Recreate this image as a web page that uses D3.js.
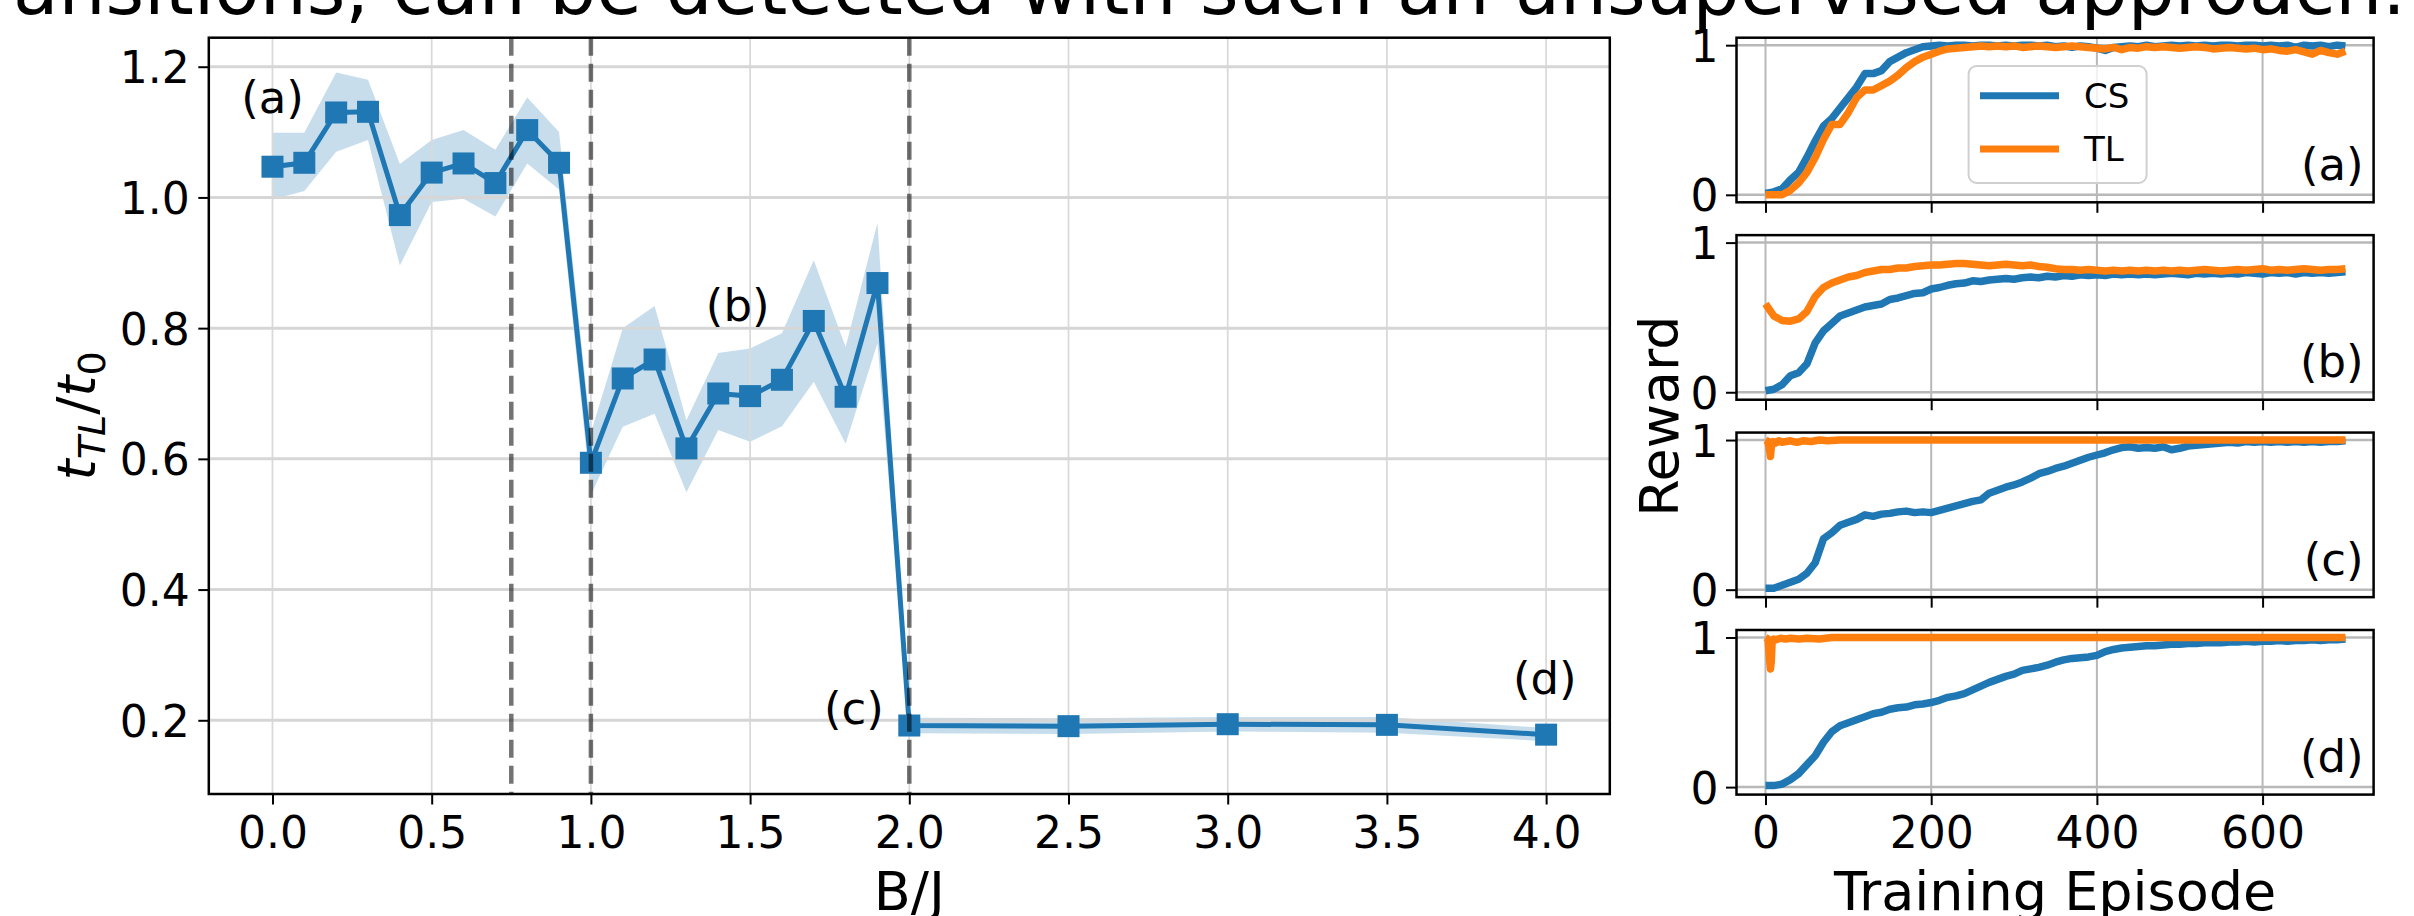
<!DOCTYPE html>
<html><head><meta charset="utf-8">
<script src="https://cdnjs.cloudflare.com/ajax/libs/d3/7.8.5/d3.min.js"></script>
<style>body{margin:0;background:#fff;} svg{display:block;font-family:"DejaVu Sans",sans-serif;}</style>
</head><body><svg id="c" width="2414" height="916"></svg>
<script>
// ---------------- data ----------------
const headerText = "ansitions, can be detected with such an unsupervised approach.";
const bj = [0.0,0.1,0.2,0.3,0.4,0.5,0.6,0.7,0.8,0.9,1.0,1.1,1.2,1.3,1.4,1.5,1.6,1.7,1.8,1.9,2.0,2.5,3.0,3.5,4.0];
const ratio = [1.047,1.053,1.130,1.131,0.973,1.038,1.052,1.022,1.103,1.053,0.594,0.723,0.752,0.616,0.700,0.696,0.721,0.811,0.695,0.869,0.192,0.191,0.194,0.193,0.178];
const ratioUpper = [1.099,1.099,1.191,1.180,1.051,1.088,1.103,1.073,1.153,1.100,0.640,0.800,0.834,0.659,0.762,0.769,0.792,0.904,0.771,0.961,0.204,0.203,0.205,0.205,0.188];
const ratioLower = [0.997,1.010,1.070,1.088,0.896,0.993,0.998,0.971,1.052,1.012,0.545,0.649,0.669,0.549,0.644,0.626,0.650,0.718,0.623,0.777,0.180,0.179,0.183,0.181,0.168];
const transitions = [0.75, 1.0, 2.0];
const bjTicks = [0.0,0.5,1.0,1.5,2.0,2.5,3.0,3.5,4.0];
const ratioTicks = [0.2,0.4,0.6,0.8,1.0,1.2];
const leftNotes = ["(a)","(b)","(c)","(d)"];

const episodes = d3.range(0, 701, 10);
const csA = [0.01,0.02,0.04,0.10,0.15,0.25,0.36,0.46,0.51,0.58,0.65,0.72,0.81,0.81,0.83,0.89,0.92,0.95,0.97,0.99,0.995,1.0,0.995,1.0,1.0,0.995,1.0,1.0,0.995,1.0,0.995,1.0,1.0,0.995,1.0,0.99,0.995,0.985,0.995,0.99,0.98,0.965,0.985,0.99,0.995,0.99,1.0,0.99,0.995,1.0,0.995,1.0,0.995,1.0,0.995,1.0,1.0,0.995,1.0,1.0,0.995,1.0,0.995,1.0,0.985,1.0,0.995,1.0,0.99,1.0,0.995];
const tlA = [0.0,0.0,0.0,0.03,0.08,0.15,0.25,0.37,0.47,0.47,0.55,0.65,0.70,0.70,0.73,0.76,0.80,0.85,0.89,0.92,0.94,0.96,0.975,0.98,0.985,0.99,0.995,0.99,0.995,0.99,0.995,0.985,0.99,0.995,0.99,0.985,0.99,0.995,0.99,0.985,0.98,0.975,0.985,0.97,0.985,0.98,0.99,0.985,0.99,0.985,0.98,0.985,0.99,0.985,0.975,0.98,0.985,0.98,0.975,0.98,0.97,0.975,0.965,0.96,0.97,0.955,0.94,0.965,0.95,0.94,0.96];
const csB = [0.01,0.02,0.05,0.11,0.13,0.19,0.33,0.41,0.46,0.51,0.53,0.55,0.57,0.58,0.59,0.62,0.63,0.645,0.66,0.665,0.69,0.70,0.715,0.725,0.73,0.745,0.74,0.75,0.755,0.76,0.755,0.765,0.77,0.765,0.775,0.77,0.78,0.775,0.785,0.78,0.785,0.78,0.79,0.785,0.79,0.785,0.79,0.785,0.79,0.795,0.79,0.785,0.795,0.79,0.795,0.79,0.795,0.79,0.8,0.795,0.79,0.8,0.795,0.8,0.79,0.8,0.795,0.8,0.795,0.8,0.805];
const tlB = [0.59,0.51,0.48,0.475,0.49,0.54,0.64,0.70,0.73,0.75,0.77,0.78,0.80,0.81,0.82,0.82,0.83,0.83,0.84,0.845,0.85,0.85,0.855,0.86,0.86,0.855,0.85,0.845,0.85,0.855,0.85,0.845,0.85,0.84,0.835,0.825,0.82,0.82,0.815,0.82,0.815,0.81,0.815,0.81,0.815,0.81,0.815,0.81,0.815,0.81,0.815,0.81,0.815,0.82,0.815,0.81,0.815,0.82,0.815,0.82,0.825,0.815,0.82,0.815,0.82,0.825,0.82,0.815,0.82,0.82,0.825];
const csC = [0.01,0.01,0.03,0.05,0.07,0.11,0.18,0.34,0.38,0.43,0.45,0.47,0.50,0.49,0.505,0.51,0.52,0.525,0.515,0.52,0.515,0.53,0.545,0.56,0.575,0.59,0.60,0.645,0.665,0.685,0.70,0.72,0.745,0.775,0.79,0.81,0.825,0.845,0.865,0.885,0.90,0.915,0.935,0.95,0.955,0.945,0.95,0.945,0.955,0.935,0.945,0.96,0.965,0.97,0.975,0.98,0.985,0.98,0.99,0.985,0.99,0.985,0.99,0.985,0.99,0.985,0.99,0.985,0.99,0.99,0.995];
const csD = [0.01,0.01,0.02,0.05,0.09,0.15,0.21,0.30,0.37,0.41,0.43,0.45,0.47,0.49,0.50,0.52,0.53,0.535,0.55,0.555,0.565,0.58,0.60,0.61,0.625,0.65,0.675,0.70,0.72,0.74,0.755,0.78,0.79,0.80,0.815,0.835,0.85,0.86,0.865,0.87,0.88,0.905,0.92,0.93,0.935,0.94,0.945,0.945,0.95,0.955,0.955,0.96,0.96,0.965,0.965,0.965,0.97,0.97,0.975,0.97,0.975,0.975,0.98,0.975,0.98,0.98,0.985,0.98,0.985,0.985,0.99];
const tlCEp = [0,3,5,6,7,9,12,16,20,25,30,38,45,55,65,75,90,110,150,200,260,320,400,480,560,640,700];
const tlCVal = [1.0,0.99,0.93,0.89,0.95,0.99,0.98,0.995,0.985,0.99,0.995,0.985,0.995,0.99,1.0,0.995,1.0,1.0,1.0,1.0,1.0,1.0,1.0,1.0,1.0,1.0,1.0];
const tlDEp = [0,3,5,6,7,8,10,13,18,24,30,40,50,65,80,100,150,200,300,400,500,600,700];
const tlDVal = [1.0,0.99,0.85,0.79,0.84,0.97,0.99,0.985,0.995,0.99,0.995,0.99,0.995,0.99,1.0,1.0,1.0,1.0,1.0,1.0,1.0,1.0,1.0];
const episodeTicks = [0,200,400,600];
const rewardTicks = [0,1];
const panelNames = ["(a)","(b)","(c)","(d)"];
const seriesNames = ["CS","TL"];
const colors = {CS:"#1f77b4", TL:"#ff7f0e"};

// -------------- drawing --------------
const svg = d3.select("#c");

// header (text of the page above the figure)
const hdr = svg.append("text").attr("x",13).attr("y",14).attr("fill","#000")
  .style("font-size","100px").text(headerText);
const hw = hdr.node().getComputedTextLength();
hdr.style("font-size", (100*2393/hw)+"px");

const TICK = 44;
function styleAxis(g){
  g.attr("font-family",null).attr("font-size",null);
  g.select(".domain").remove();
  g.selectAll(".tick line").attr("stroke","#000").attr("stroke-width",2);
  g.selectAll(".tick text").attr("fill","#000").style("font-size",TICK+"px");
}

// ===== left panel =====
const L = {x0:208.8, x1:1609.8, y0:37.7, y1:794};
const x = d3.scaleLinear().domain([-0.2,4.2]).range([L.x0,L.x1]);
const y = d3.scaleLinear().domain([0.0872,1.2444]).range([L.y1,L.y0]);
const pts = bj.map((b,i)=>({b, v:ratio[i], lo:ratioLower[i], hi:ratioUpper[i]}));

svg.append("path").datum(pts)
  .attr("d", d3.area().x(d=>x(d.b)).y0(d=>y(d.lo)).y1(d=>y(d.hi)))
  .attr("fill","#1f77b4").attr("fill-opacity",0.25);

// grid
svg.append("g").selectAll("line").data(bjTicks).join("line")
  .attr("x1",d=>x(d)).attr("x2",d=>x(d)).attr("y1",L.y0).attr("y2",L.y1)
  .attr("stroke","#dadada").attr("stroke-width",1.8);
svg.append("g").selectAll("line").data(ratioTicks).join("line")
  .attr("y1",d=>y(d)).attr("y2",d=>y(d)).attr("x1",L.x0).attr("x2",L.x1)
  .attr("stroke","#d6d6d6").attr("stroke-width",3);

svg.append("path").datum(pts)
  .attr("d", d3.line().x(d=>x(d.b)).y(d=>y(d.v)))
  .attr("fill","none").attr("stroke","#1f77b4").attr("stroke-width",5);
const MS = 22;
svg.append("g").selectAll("rect").data(pts).join("rect")
  .attr("x",d=>x(d.b)-MS/2).attr("y",d=>y(d.v)-MS/2).attr("width",MS).attr("height",MS)
  .attr("fill","#1f77b4");

svg.append("g").selectAll("line").data(transitions).join("line")
  .attr("x1",d=>x(d)).attr("x2",d=>x(d)).attr("y1",L.y0).attr("y2",L.y1)
  .attr("stroke","#000").attr("stroke-opacity",0.55).attr("stroke-width",4.5)
  .attr("stroke-dasharray","18,8");

// annotations
const notePos = [[0.0,1.129],[1.461,0.811],[1.826,0.194],[3.996,0.240]];
svg.append("g").selectAll("text").data(leftNotes).join("text")
  .attr("x",(d,i)=>x(notePos[i][0])).attr("y",(d,i)=>y(notePos[i][1]))
  .attr("text-anchor","middle").style("font-size","45px").attr("fill","#000").text(d=>d);

// axes
const gx = svg.append("g").attr("transform",`translate(0,${L.y1})`)
  .call(d3.axisBottom(x).tickValues(bjTicks).tickFormat(d3.format(".1f")).tickSize(10.5));
styleAxis(gx);
gx.selectAll(".tick text").attr("y",848-L.y1).attr("dy",null);
const gy = svg.append("g").attr("transform",`translate(${L.x0},0)`)
  .call(d3.axisLeft(y).tickValues(ratioTicks).tickFormat(d3.format(".1f")).tickSize(10.5));
styleAxis(gy);
gy.selectAll(".tick text").attr("x",-19).attr("dy","0.3645em");

svg.append("rect").attr("x",L.x0).attr("y",L.y0).attr("width",L.x1-L.x0).attr("height",L.y1-L.y0)
  .attr("fill","none").attr("stroke","#000").attr("stroke-width",2.5);

// axis labels
svg.append("text").attr("x",(L.x0+L.x1)/2).attr("y",910).attr("text-anchor","middle")
  .style("font-size","54px").attr("fill","#000").text("B/J");
const yl = svg.append("text").attr("transform",`translate(95,${(L.y0+L.y1)/2}) rotate(-90)`)
  .attr("text-anchor","middle").style("font-size","54px").attr("fill","#000");
yl.append("tspan").style("font-style","italic").text("t");
yl.append("tspan").style("font-style","italic").style("font-size","38px").attr("dy",10).text("TL");
yl.append("tspan").attr("dy",-10).text("/");
yl.append("tspan").style("font-style","italic").text("t");
yl.append("tspan").style("font-size","38px").attr("dy",10).text("0");

// ===== right panels =====
const R = {x0:1736.5, x1:2373.6, top0:37.7, step:197.43, h:164.6};
const xr = d3.scaleLinear().domain([-35,734]).range([R.x0,R.x1]);
const panels = [
  {CS: episodes.map((e,i)=>[e,csA[i]]), TL: episodes.map((e,i)=>[e,tlA[i]])},
  {CS: episodes.map((e,i)=>[e,csB[i]]), TL: episodes.map((e,i)=>[e,tlB[i]])},
  {CS: episodes.map((e,i)=>[e,csC[i]]), TL: tlCEp.map((e,i)=>[e,tlCVal[i]])},
  {CS: episodes.map((e,i)=>[e,csD[i]]), TL: tlDEp.map((e,i)=>[e,tlDVal[i]])}
];
panels.forEach((p,k)=>{
  const top = R.top0 + k*R.step, bot = top + R.h;
  const yr = d3.scaleLinear().domain([-0.05,1.05]).range([bot,top]);
  const g = svg.append("g");
  g.append("g").selectAll("line").data(episodeTicks).join("line")
    .attr("x1",d=>xr(d)).attr("x2",d=>xr(d)).attr("y1",top).attr("y2",bot)
    .attr("stroke","#b8b8b8").attr("stroke-width",2);
  g.append("g").selectAll("line").data(rewardTicks).join("line")
    .attr("y1",d=>yr(d)).attr("y2",d=>yr(d)).attr("x1",R.x0).attr("x2",R.x1)
    .attr("stroke","#b8b8b8").attr("stroke-width",2.5);
  const ln = d3.line().x(d=>xr(d[0])).y(d=>yr(d[1]));
  seriesNames.forEach(s=>{
    g.append("path").datum(p[s]).attr("d",ln).attr("fill","none")
      .attr("stroke",colors[s]).attr("stroke-width",7.5).attr("stroke-linejoin","round");
  });
  const ax = g.append("g").attr("transform",`translate(0,${bot})`)
    .call(d3.axisBottom(xr).tickValues(episodeTicks).tickSize(10.5));
  styleAxis(ax);
  if (k < 3) ax.selectAll(".tick text").remove();
  else ax.selectAll(".tick text").attr("y",848-bot).attr("dy",null);
  const ay = g.append("g").attr("transform",`translate(${R.x0},0)`)
    .call(d3.axisLeft(yr).tickValues(rewardTicks).tickFormat(d3.format("d")).tickSize(10.5));
  styleAxis(ay);
  ay.selectAll(".tick text").attr("x",-18).attr("dy","0.3645em");
  g.append("rect").attr("x",R.x0).attr("y",top).attr("width",R.x1-R.x0).attr("height",R.h)
    .attr("fill","none").attr("stroke","#000").attr("stroke-width",2.5);
  g.append("text").attr("x",R.x1-10).attr("y",top+142).attr("text-anchor","end")
    .style("font-size","45px").attr("fill","#000").text(panelNames[k]);
  if (k === 0) {
    const lg = g.append("g");
    lg.append("rect").attr("x",1968.6).attr("y",66).attr("width",178).attr("height",117).attr("rx",8)
      .attr("fill","#fff").attr("fill-opacity",0.8).attr("stroke","#d0d0d0").attr("stroke-width",2);
    seriesNames.forEach((s,i)=>{
      const yy = 95.7 + i*53.3;
      lg.append("line").attr("x1",1980).attr("x2",2059).attr("y1",yy).attr("y2",yy)
        .attr("stroke",colors[s]).attr("stroke-width",7);
      lg.append("text").attr("x",2084).attr("y",yy+11.8).style("font-size","34px").attr("fill","#000").text(s);
    });
  }
});
svg.append("text").attr("transform",`translate(1678,${(R.top0 + 3*R.step + R.h + R.top0)/2}) rotate(-90)`)
  .attr("text-anchor","middle").style("font-size","54px").attr("fill","#000").text("Reward");
svg.append("text").attr("x",(R.x0+R.x1)/2).attr("y",910).attr("text-anchor","middle")
  .style("font-size","54px").attr("fill","#000").text("Training Episode");
</script></body></html>
